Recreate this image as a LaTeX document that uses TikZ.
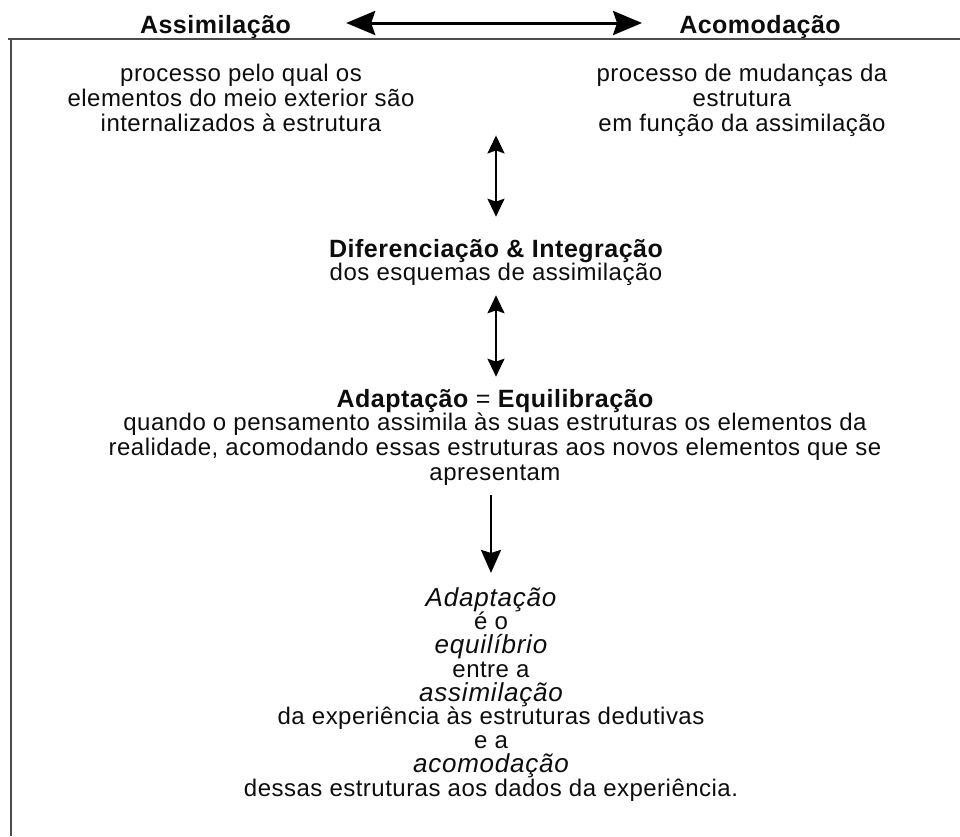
\documentclass[tikz,border=0pt]{standalone}
\usepackage{fontspec}
\setmainfont{Liberation Sans}[LetterSpace=2]
\usetikzlibrary{arrows.meta,positioning}
\newcommand{\destaque}[1]{{\fontsize{26}{23.75}\selectfont\itshape\addfontfeature{LetterSpace=3}#1}}
\tikzset{
    %Define style for the two titles
    titulo/.style={
           anchor=base,
           inner sep=0pt,
           text=black!95,
           font=\fontsize{25}{25}\selectfont\bfseries},
    %Define style for text blocks (base = last line)
    bloco/.style={
           anchor=base,
           align=center,
           inner sep=0pt,
           text=black!95,
           font={\fontsize{24}{25}\selectfont\setlength{\lineskiplimit}{-20pt}}},
    % Define arrow styles
    seta/.style={
           <->,
           line width=2.4pt,
           >={Stealth[length=18pt,width=17pt,inset=3pt]}},
    setagrande/.style={
           <->,
           line width=3pt,
           >={Stealth[length=29pt,width=24pt,inset=4pt]}},
    setabaixo/.style={
           ->,
           line width=2.6pt,
           >={Stealth[length=23pt,width=20pt,inset=3pt]}}
}
\begin{document}
\begin{tikzpicture}[x=1pt,y=-1pt]
\useasboundingbox (0,0) rectangle (960,836);
%Frame
\draw[black!70, line width=2pt] (8,38.5) -- (960,38.5);
\draw[black!70, line width=2pt] (10.5,38.5) -- (10.5,836);
%Titles
\node[titulo] (assim) at (215.5,33) {Assimilação};
\node[titulo] (acomod) at (760,33) {Acomodação};
%Text blocks
\node[bloco] (assimtxt) at (241,131) {processo pelo qual os\\elementos do meio exterior são\\internalizados à estrutura};
\node[bloco] (acomodtxt) at (742,131) {processo de mudanças da\\estrutura\\em função da assimilação};
\node[bloco] (difer) at (496,280) {{\bfseries\fontsize{25}{25}\selectfont Diferenciação \& Integração}\\[-2pt]
dos esquemas de assimilação};
\node[bloco] (adapt) at (495,480) {{\bfseries\fontsize{25}{25}\selectfont Adaptação {\mdseries =} Equilibração}\\[-2pt]
quando o pensamento assimila às suas estruturas os elementos da\\
realidade, acomodando essas estruturas aos novos elementos que se\\
apresentam};
\node[bloco, font={\fontsize{24}{23.75}\selectfont\setlength{\lineskiplimit}{-20pt}}] (concl) at (491,796) {\destaque{Adaptação}\\é o\\\destaque{equilíbrio}\\entre a\\\destaque{assimilação}\\
da experiência às estruturas dedutivas\\e a\\\destaque{acomodação}\\dessas estruturas aos dados da experiência.};
%Arrows
\draw[setagrande, shorten <=55pt, shorten >=37pt] ([yshift=10pt]assim.base east) -- ([yshift=10pt]acomod.base west);
\draw[seta, shorten <=4pt, shorten >=22pt] (difer.north |- assimtxt.south) -- (difer.north);
\draw[seta, shorten <=10pt, shorten >=12pt] (difer.south) -- (difer.south |- adapt.north);
\draw[setabaixo, shorten <=10pt, shorten >=14pt] (adapt.south -| concl.north) -- (concl.north);
\end{tikzpicture}
\end{document}
